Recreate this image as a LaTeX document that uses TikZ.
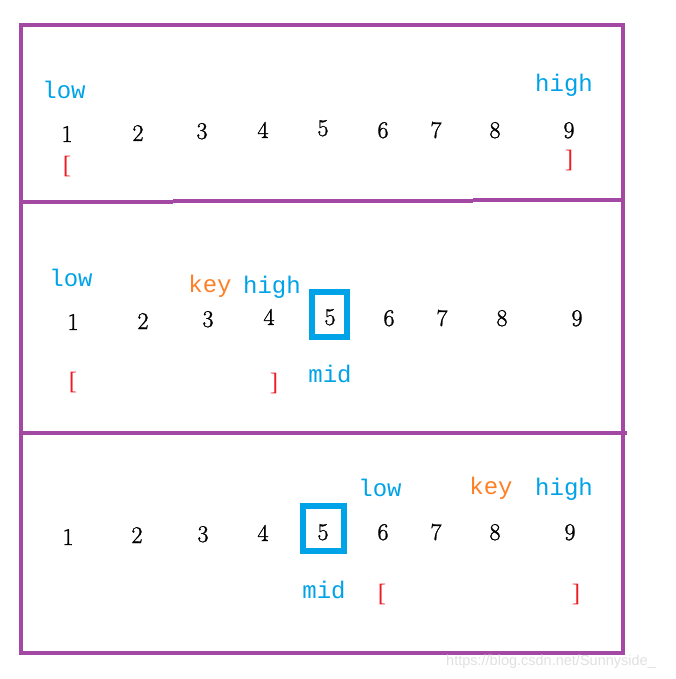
\documentclass[tikz,border=0pt]{standalone}
\usepackage{fontspec}
\newfontfamily\lblfont{Liberation Mono}
\newfontfamily\wmfont{Liberation Sans}
\newfontfamily\brkfont{Liberation Serif}
\newfontfamily\numfont[FakeBold=1.2]{Latin Modern Roman}
\definecolor{pur}{RGB}{163,73,164}
\definecolor{tblue}{RGB}{0,162,232}
\definecolor{torange}{RGB}{255,127,39}
\definecolor{tred}{RGB}{237,28,36}
\begin{document}
\begin{tikzpicture}[x=1pt,y=-1pt,
  num/.style={anchor=base,font=\numfont\fontsize{24}{24}\selectfont,inner sep=0pt},
  lab/.style={anchor=base,font=\lblfont\fontsize{24}{24}\selectfont,inner sep=0pt},
  lo/.style={lab,text=tblue},
  ky/.style={lab,text=torange},
  brk/.style={anchor=center,font=\brkfont\fontsize{25}{25}\selectfont,text=tred,inner sep=0pt},
  frame/.style={draw=pur,line width=4.5pt},
  midbox/.style={draw=tblue,line width=5.5pt}]
\useasboundingbox (0,0) rectangle (676,679);
% frame
\draw[frame] (21,25) rectangle (623,653);
\draw[frame] (21,202) -- (173,202);
\draw[frame] (173,201) -- (473,201);
\draw[frame] (473,200) -- (623,200);
\draw[frame] (21,433) -- (627,433);
% panel 1
\node[lo] (l1) at (64,99) {low};
\node[lo] (h1) at (564,92) {high};
\node[num] (a1) at (67,142) {1};
\node[num] (a2) at (138,141) {2};
\node[num] (a3) at (202,139) {3};
\node[num] (a4) at (263,138) {4};
\node[num] (a5) at (323,136) {5};
\node[num] (a6) at (383,138) {6};
\node[num] (a7) at (436,138) {7};
\node[num] (a8) at (495,138) {8};
\node[num] (a9) at (569,138) {9};
\node[brk] (bl1) at (67,166) {[};
\node[brk] (br1) at (569,160) {]};
% panel 2
\node[lo] (l2) at (71,286) {low};
\node[ky] (k2) at (210,292) {key};
\node[lo] (h2) at (272,293) {high};
\node[num] (b1) at (73,330) {1};
\node[num] (b2) at (143,329) {2};
\node[num] (b3) at (208,327) {3};
\node[num] (b4) at (269,325) {4};
\node[num] (b5) at (330,325) {5};
\node[num] (b6) at (389,326) {6};
\node[num] (b7) at (442,326) {7};
\node[num] (b8) at (502,326) {8};
\node[num] (b9) at (577,326) {9};
\draw[midbox] (312,292) rectangle (347,337);
\node[lo] (m2) at (330,382) {mid};
\node[brk] (bl2) at (73,382) {[};
\node[brk] (br2) at (274,383) {]};
% panel 3
\node[lo] (l3) at (380,496) {low};
\node[ky] (k3) at (491,494) {key};
\node[lo] (h3) at (564,495) {high};
\node[num] (c1) at (68,545) {1};
\node[num] (c2) at (137,543) {2};
\node[num] (c3) at (203,542) {3};
\node[num] (c4) at (263,541) {4};
\node[num] (c5) at (323,540) {5};
\node[num] (c6) at (383,540) {6};
\node[num] (c7) at (436,540) {7};
\node[num] (c8) at (495,540) {8};
\node[num] (c9) at (570,540) {9};
\draw[midbox] (303,506) rectangle (344,551);
\node[lo] (m3) at (324,598) {mid};
\node[brk] (bl3) at (382,594) {[};
\node[brk] (br3) at (576,594) {]};
% watermark
\node[anchor=center,font=\wmfont\fontsize{14.5}{14.5}\selectfont,text=black!12,inner sep=0pt] (wm) at (551,662) {https://blog.csdn.net/Sunnyside\_};
\end{tikzpicture}
\end{document}
